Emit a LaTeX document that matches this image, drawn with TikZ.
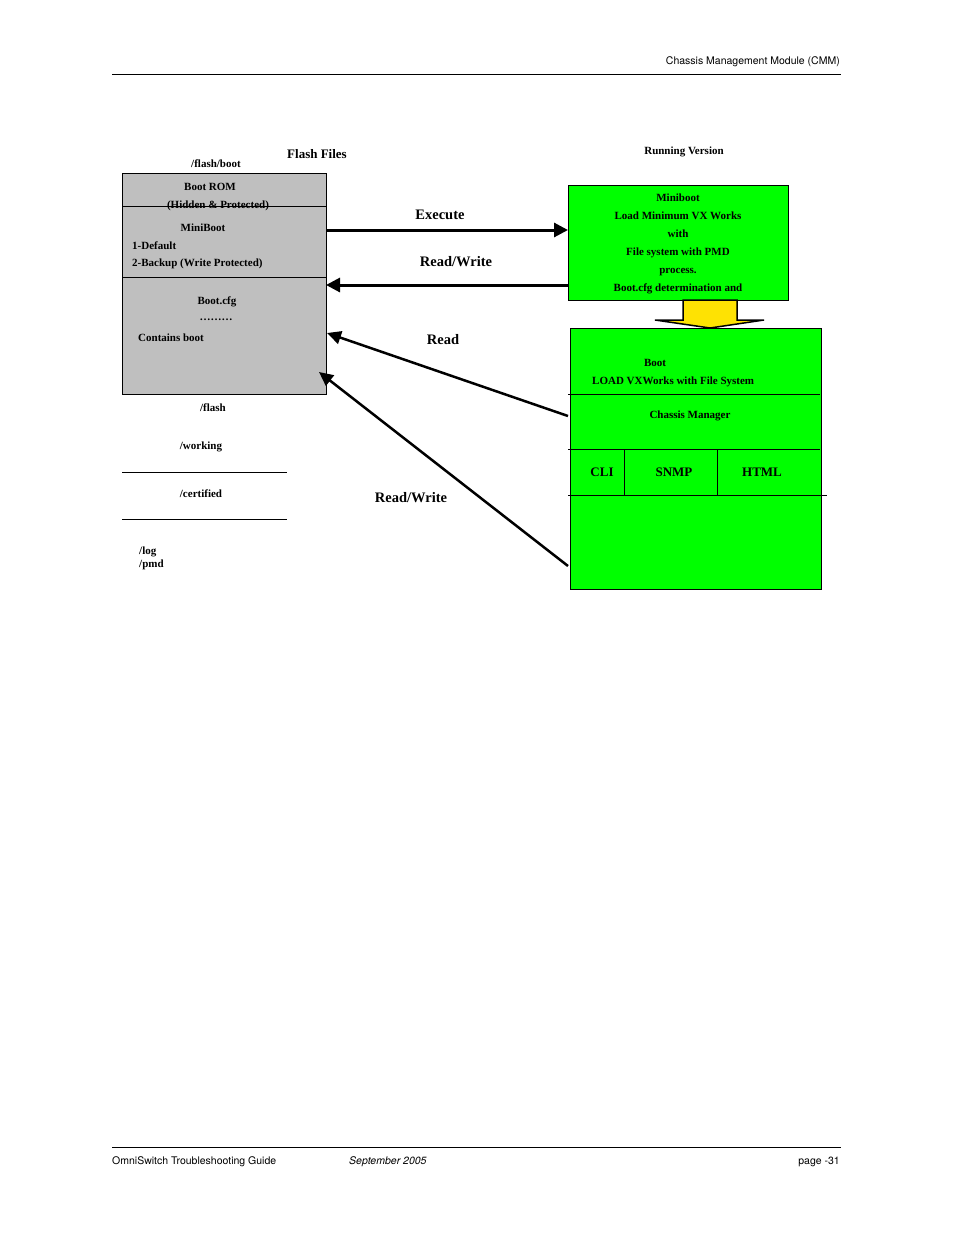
\documentclass[tikz,border=0pt]{standalone}
\usepackage{fontspec}
\setmainfont{Liberation Serif}
\newfontfamily\hdr{TeX Gyre Heros}
\usetikzlibrary{arrows.meta}
\begin{document}
\begin{tikzpicture}[x=1pt,y=-1pt,
  t/.style={font=\bfseries\fontsize{11}{13}\selectfont,inner sep=0pt,align=center},
  big/.style={font=\bfseries\fontsize{14.5}{16}\selectfont,inner sep=0pt},
  hd/.style={font=\hdr\fontsize{10.5}{12}\selectfont,inner sep=0pt},
  arr/.style={line width=3pt,-{Triangle[length=14pt,width=14pt]}},
  arr2/.style={line width=2.5pt,-{Triangle[length=14pt,width=13pt]}}]
\useasboundingbox (0,0) rectangle (954,1235);
% header/footer
\node[hd,anchor=base east] (h) at (840,64) {Chassis Management Module (CMM)};
\draw[line width=0.6pt] (112,74) -- (841,74);
\draw[line width=0.6pt] (112,1147) -- (841,1147);
\node[hd,anchor=base west] (f1) at (112,1164) {OmniSwitch Troubleshooting Guide};
\node[hd,anchor=base west] (f2) at (349,1164) {\itshape September 2005};
\node[hd,anchor=base east] (f3) at (840,1164) {page -31};
% left box
\node[draw,fill=black!25,minimum width=204pt,minimum height=221pt,anchor=north west,inner sep=0pt] (L) at (122,173) {};
\draw (122,206) -- (326,206);
\draw (122,277) -- (326,277);
\node[t] (fb) at (216,164) {/flash/boot};
\node[big,font=\bfseries\fontsize{13}{15}\selectfont] (ff) at (317,154) {Flash Files};
\node[t] (br) at (210,187) {Boot ROM};
\node[t] (hp) at (218,206) {(Hidden \& Protected)};
\node[t] (mb) at (203,228) {MiniBoot};
\node[t,anchor=west] (d1) at (132,246) {1-Default};
\node[t,anchor=west] (d2) at (132,264) {2-Backup (Write Protected)};
\node[t] (bc) at (217,302) {Boot.cfg};
\node[t] (dots) at (216,320) {………};
\node[t,anchor=west] (cb) at (138,338) {Contains boot};
\node[t] (fl) at (213,408) {/flash};
\node[t] (wk) at (201,447) {/working};
\draw (122,472) -- (287,472);
\node[t] (ce) at (201,494) {/certified};
\draw (122,519) -- (287,519);
\node[t,anchor=west,align=left] (lp) at (139,558) {/log\\/pmd};
% right top
\node[t] (rv) at (684,152) {Running Version};
\node[draw,fill=green,minimum width=220pt,minimum height=115pt,anchor=north west,inner sep=0pt] (M) at (568,185) {};
\node[t,font=\bfseries\fontsize{11}{18}\selectfont] (mt) at (678,244) {Miniboot\\Load Minimum VX Works\\with\\File system with PMD\\process.\\Boot.cfg determination and};
% yellow arrow
\draw[fill=yellow!85!orange,line width=1.5pt] (683,300) -- (737,300) -- (737,320) -- (764,320) -- (710,328) -- (655,320) -- (683,320) -- cycle;
% lower green
\node[draw,fill=green,minimum width=251pt,minimum height=261pt,anchor=north west,inner sep=0pt] (G) at (570,328) {};
\draw (568,394) -- (820,394);
\draw[line width=1pt] (568,449) -- (820,449);
\draw[line width=1pt] (568,495) -- (827,495);
\draw (624,449) -- (624,495);
\draw (717,449) -- (717,495);
\node[t] (bo) at (655,363) {Boot};
\node[t,anchor=west] (lv) at (592,382) {LOAD VXWorks with File System};
\node[t] (cm) at (690,416) {Chassis Manager};
\node[big,font=\bfseries\fontsize{13}{15}\selectfont] (cli) at (602,472) {CLI};
\node[big,font=\bfseries\fontsize{13}{15}\selectfont] (sn) at (674,472) {SNMP};
\node[big,font=\bfseries\fontsize{13}{15}\selectfont] (ht) at (762,472) {HTML};
% arrows
\coordinate (a1) at (326,230); \coordinate (b1) at (568,230);
\coordinate (a2) at (568,285); \coordinate (b2) at (326,285);
\coordinate (a3) at (568,416); \coordinate (b3) at (327,333);
\coordinate (a4) at (568,566); \coordinate (b4) at (319,372);
\draw[arr] (a1) -- (b1);
\draw[arr] (a2) -- (b2);
\draw[arr2] (a3) -- (b3);
\draw[arr2] (a4) -- (b4);
\node[big] (ex) at (440,215) {Execute};
\node[big] (rw) at (456,262) {Read/Write};
\node[big] (rd) at (443,340) {Read};
\node[big] (rw2) at (411,498) {Read/Write};
\end{tikzpicture}
\end{document}
